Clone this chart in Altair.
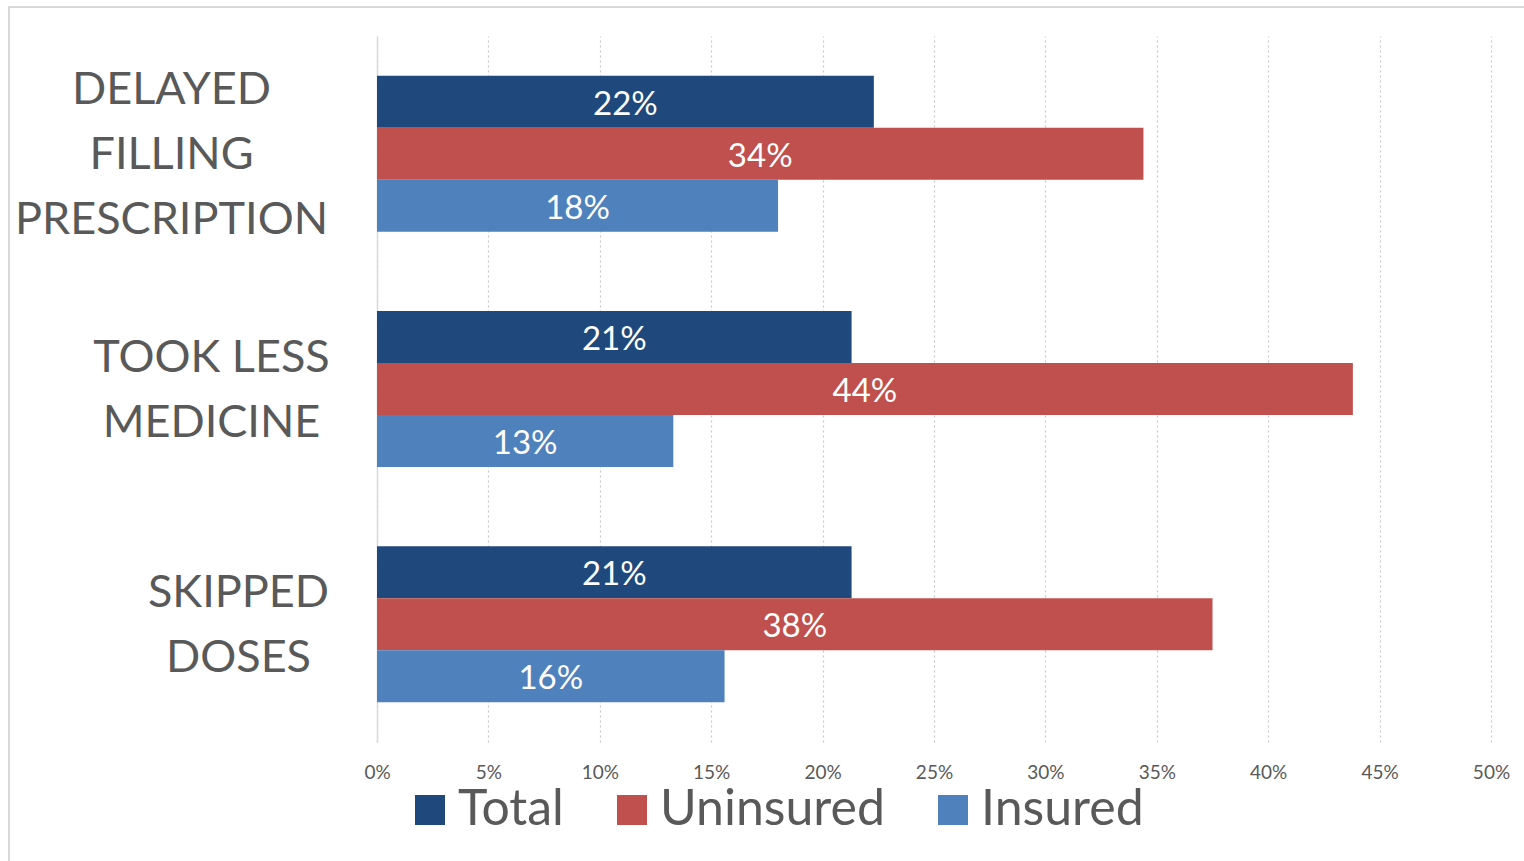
import altair as alt
import pandas as pd

categories = ["DELAYED|FILLING|PRESCRIPTION", "TOOK LESS|MEDICINE", "SKIPPED|DOSES"]
series = ["Total", "Uninsured", "Insured"]
total = [22.3, 21.3, 21.3]
uninsured = [34.4, 43.8, 37.5]
insured = [18.0, 13.3, 15.6]
colors = ["#1F497D", "#C0504D", "#4F81BD"]
x_ticks = [0, 5, 10, 15, 20, 25, 30, 35, 40, 45, 50]

rows = []
for i, c in enumerate(categories):
    for s, vals in zip(series, [total, uninsured, insured]):
        rows.append({"category": c, "series": s, "value": vals[i]})
df = pd.DataFrame(rows)

FONT = "Lato"
GRAY = "#595959"

y_enc = alt.Y(
    "category:N",
    sort=categories,
    title=None,
    scale=alt.Scale(paddingInner=0.337, paddingOuter=0.1685),
    axis=alt.Axis(
        labelExpr="split(datum.label, '|')",
        labelAlign="center",
        labelBaseline="middle",
        labelFont=FONT,
        labelFontSize=45,
        labelColor=GRAY,
        labelLineHeight=65,
        labelLimit=600,
        ticks=False,
        domainColor="#d9d9d9",
        domainWidth=1.5,
        labelPadding={
            "condition": [
                {"test": f"datum.value === '{categories[0]}'", "value": 206},
                {"test": f"datum.value === '{categories[1]}'", "value": 166},
            ],
            "value": 139,
        },
        labelOffset={
            "condition": [
                {"test": f"datum.value === '{categories[0]}'", "value": -64},
            ],
            "value": -31,
        },
    ),
)
yoff_enc = alt.YOffset("series:N", sort=series, scale=alt.Scale(paddingInner=0, paddingOuter=0))

x_enc = alt.X(
    "value:Q",
    title=None,
    scale=alt.Scale(domain=[0, 50], nice=False),
    axis=alt.Axis(
        values=x_ticks,
        labelExpr="datum.value + '%'",
        labelFlush=False,
        grid=True,
        gridDash=[2, 3],
        gridColor="#c8c8c8",
        gridWidth=1.2,
        domain=False,
        ticks=False,
        labelFont=FONT,
        labelFontSize=19,
        labelColor=GRAY,
        labelPadding=21,
    ),
)

bars = alt.Chart(df).mark_bar().encode(
    x=x_enc,
    y=y_enc,
    yOffset=yoff_enc,
    color=alt.Color(
        "series:N",
        sort=series,
        scale=alt.Scale(domain=series, range=colors),
        legend=alt.Legend(
            orient="none",
            legendX=28,
            legendY=749,
            direction="horizontal",
            title=None,
            symbolType="square",
            symbolSize=900,
            symbolOpacity=1,
            symbolStrokeWidth=0,
            labelFont=FONT,
            labelFontSize=50,
            labelColor=GRAY,
            labelOffset=3,
            columnPadding=43,
            padding=0,
            labelLimit=600,
        ),
    ),
)

texts = alt.Chart(df).transform_calculate(
    mid="datum.value / 2",
    label="format(round(datum.value), 'd') + '%'",
).mark_text(color="white", font=FONT, fontSize=33, align="center", baseline="middle", dy=3).encode(
    x=alt.X("mid:Q", scale=alt.Scale(domain=[0, 50], nice=False)),
    y=alt.Y("category:N", sort=categories),
    yOffset=alt.YOffset("series:N", sort=series),
    text="label:N",
)

border = alt.Chart(alt.Data(values=[{"a": 1}])).mark_rect(
    fill=None, stroke="#d9d9d9", strokeWidth=2
).encode(
    x=alt.value(-368), x2=alt.value(1300), y=alt.value(-29), y2=alt.value(900)
)

chart = alt.layer(border, bars, texts).properties(
    width=1114,
    height=706,
    autosize=alt.AutoSizeParams(type="none"),
    padding={"left": 377, "top": 36, "right": 33, "bottom": 119},
    background="white",
).configure_view(stroke=None)

chart.save("out.html", embed_options={"renderer": "svg", "actions": False})
